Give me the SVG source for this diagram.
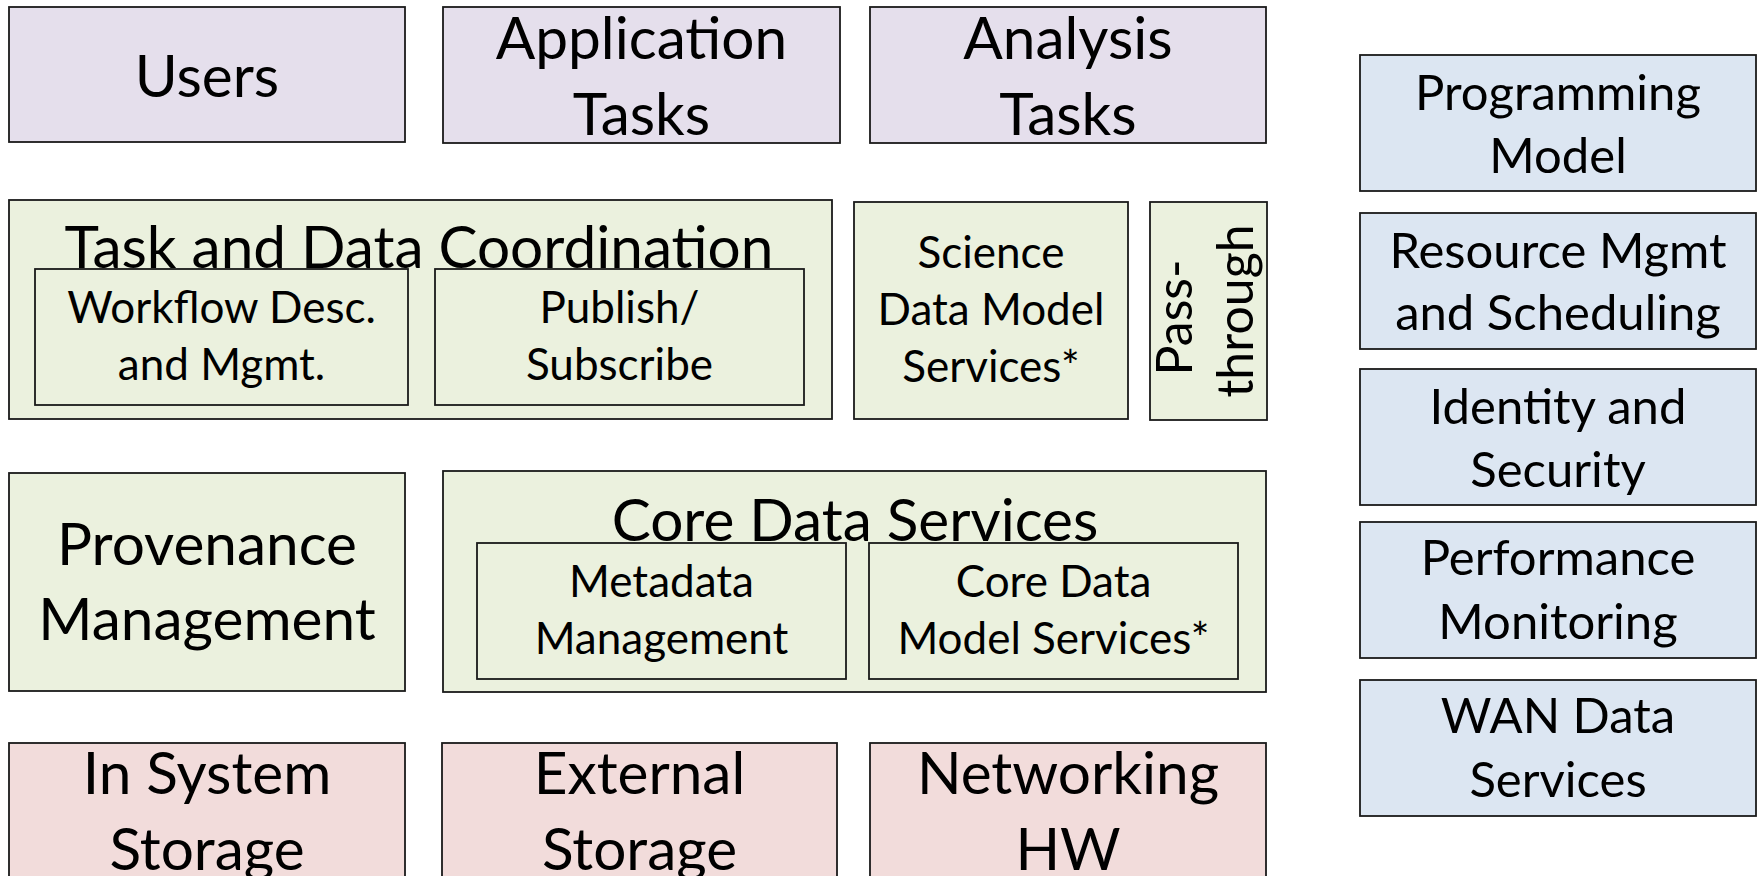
<svg xmlns="http://www.w3.org/2000/svg" width="1758" height="876" viewBox="0 0 1758 876">
  <style>
    .box { stroke: #1a1a1a; stroke-width: 1.8; }
    .app { fill: #E5DFEC; }
    .svc { fill: #EBF1DE; }
    .hw  { fill: #F2DCDB; }
    .xc  { fill: #DCE6F2; }
    text { font-family: Lato, "Open Sans", "DejaVu Sans", sans-serif; fill: #000; text-anchor: middle; }
    .big { font-size: 58.5px; }
    .mid { font-size: 49px; }
    .sm  { font-size: 44px; }
    .rot { font-size: 50px; }
  </style>
  <rect width="1758" height="876" fill="#fff"/>

  <!-- application layer -->
  <g id="users">
    <rect class="box app" x="9" y="7" width="396" height="135"/>
    <text class="big" x="207" y="97">Users</text>
  </g>
  <g id="application-tasks">
    <rect class="box app" x="443" y="7" width="397" height="136"/>
    <text class="big" x="641.5" y="59">Application</text>
    <text class="big" x="641.5" y="135">Tasks</text>
  </g>
  <g id="analysis-tasks">
    <rect class="box app" x="870" y="7" width="396" height="136"/>
    <text class="big" x="1068" y="59">Analysis</text>
    <text class="big" x="1068" y="135">Tasks</text>
  </g>

  <!-- coordination layer -->
  <g id="task-data-coordination">
    <rect class="box svc" x="9" y="200" width="823" height="219"/>
    <g id="workflow">
      <rect class="box svc" x="35" y="269" width="373" height="136"/>
      <text class="sm" x="221.5" y="323">Workflow Desc.</text>
      <text class="sm" x="221.5" y="380">and Mgmt.</text>
    </g>
    <g id="publish-subscribe">
      <rect class="box svc" x="435" y="269" width="369" height="136"/>
      <text class="sm" x="619.5" y="323">Publish/</text>
      <text class="sm" x="619.5" y="380">Subscribe</text>
    </g>
    <text class="big" x="419" y="268">Task and Data Coordination</text>
  </g>
  <g id="science-data-model">
    <rect class="box svc" x="854" y="202" width="274" height="217"/>
    <text class="sm" x="991" y="268">Science</text>
    <text class="sm" x="991" y="325">Data Model</text>
    <text class="sm" x="991" y="382">Services*</text>
  </g>
  <g id="pass-through">
    <rect class="box svc" x="1150" y="202" width="117" height="218"/>
    <text class="rot" transform="translate(1208.5,311) rotate(-90)">
      <tspan x="0" y="-17">Pass-</tspan>
      <tspan x="0" y="44">through</tspan>
    </text>
  </g>

  <!-- data layer -->
  <g id="provenance">
    <rect class="box svc" x="9" y="473" width="396" height="218"/>
    <text class="big" x="207" y="565">Provenance</text>
    <text class="big" x="207" y="640">Management</text>
  </g>
  <g id="core-data-services">
    <rect class="box svc" x="443" y="471" width="823" height="221"/>
    <g id="metadata">
      <rect class="box svc" x="477" y="543" width="369" height="136"/>
      <text class="sm" x="661.5" y="597">Metadata</text>
      <text class="sm" x="661.5" y="654">Management</text>
    </g>
    <g id="core-data-model">
      <rect class="box svc" x="869" y="543" width="369" height="136"/>
      <text class="sm" x="1053.5" y="597">Core Data</text>
      <text class="sm" x="1053.5" y="654">Model Services*</text>
    </g>
    <text class="big" x="855" y="541">Core Data Services</text>
  </g>

  <!-- hardware layer (runs past the lower edge) -->
  <g id="in-system-storage">
    <rect class="box hw" x="9" y="743" width="396" height="160"/>
    <text class="big" x="207" y="794">In System</text>
    <text class="big" x="207" y="870">Storage</text>
  </g>
  <g id="external-storage">
    <rect class="box hw" x="442" y="743" width="395" height="160"/>
    <text class="big" x="639.5" y="794">External</text>
    <text class="big" x="639.5" y="870">Storage</text>
  </g>
  <g id="networking-hw">
    <rect class="box hw" x="870" y="743" width="396" height="160"/>
    <text class="big" x="1068" y="794">Networking</text>
    <text class="big" x="1068" y="870">HW</text>
  </g>

  <!-- cross-cutting concerns -->
  <g id="programming-model">
    <rect class="box xc" x="1360" y="55" width="396" height="136"/>
    <text class="mid" x="1558" y="110">Programming</text>
    <text class="mid" x="1558" y="173">Model</text>
  </g>
  <g id="resource-mgmt">
    <rect class="box xc" x="1360" y="213" width="396" height="136"/>
    <text class="mid" x="1558" y="268">Resource Mgmt</text>
    <text class="mid" x="1558" y="330">and Scheduling</text>
  </g>
  <g id="identity-security">
    <rect class="box xc" x="1360" y="369" width="396" height="136"/>
    <text class="mid" x="1558" y="424">Identity and</text>
    <text class="mid" x="1558" y="487">Security</text>
  </g>
  <g id="performance-monitoring">
    <rect class="box xc" x="1360" y="522" width="396" height="136"/>
    <text class="mid" x="1558" y="575">Performance</text>
    <text class="mid" x="1558" y="639">Monitoring</text>
  </g>
  <g id="wan-data-services">
    <rect class="box xc" x="1360" y="680" width="396" height="136"/>
    <text class="mid" x="1558" y="733">WAN Data</text>
    <text class="mid" x="1558" y="797">Services</text>
  </g>

  <g id="connectors"/>
</svg>
